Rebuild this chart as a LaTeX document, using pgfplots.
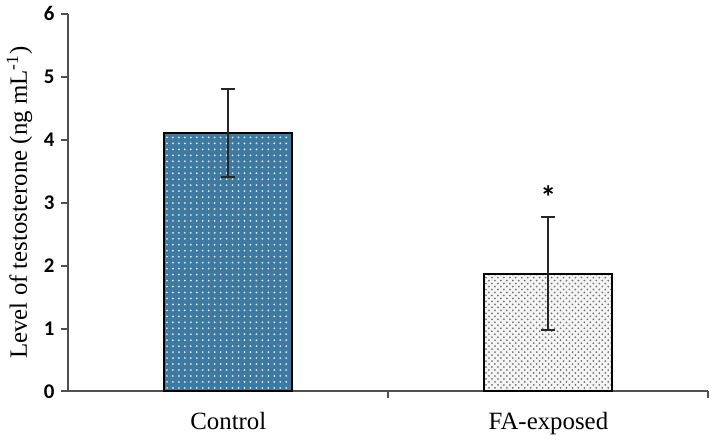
\documentclass[border=0pt]{standalone}
\usepackage{pgfplots}
\pgfplotsset{compat=1.18}
\usetikzlibrary{patterns}
\usepackage{fontspec}
\setmainfont{Liberation Serif}
\newfontfamily\carlito{Carlito}
\definecolor{ctrlblue}{RGB}{62,122,160}
\definecolor{axisgray}{RGB}{80,80,80}
\begin{document}
\begin{tikzpicture}
  \begin{axis}[
      width=322pt, height=190pt,
      scale only axis,
      axis x line*=bottom,
      axis y line*=left,
      axis line style={axisgray, line width=1pt},
      xmin=-0.5, xmax=1.5,
      ymin=0, ymax=6,
      xtick={0.5,1.5},
      xticklabels={},
      extra x ticks={0,1},
      extra x tick labels={Control, FA-exposed},
      extra x tick style={major tick length=0pt,
        tick label style={font=\fontsize{12.5}{14}\selectfont, yshift=-7pt}},
      ytick={0,1,2,3,4,5,6},
      yticklabels={0,1,2,3,4,5,6},
      y tick label style={font=\carlito\bfseries\fontsize{10.5}{12}\selectfont},
      tick align=outside,
      major tick length=3.5pt,
      tick style={axisgray, line width=1pt},
      ylabel={Level of testosterone (ng mL\textsuperscript{-1})},
      ylabel style={font=\fontsize{12.5}{14}\selectfont, yshift=-1pt},
      ybar,
      bar width=0.4,
      bar shift=0pt,
      clip=false,
    ]
    \addplot[draw=black, line width=1pt, fill=ctrlblue,
      postaction={pattern=dots, pattern color=white!85!ctrlblue},
      error bars/.cd, y dir=both, y explicit,
      error bar style={black!85, line width=1pt},
      error mark options={black!85, line width=1pt, mark size=3.5pt, rotate=90}]
      coordinates {(0,4.10) +- (0,0.70)};
    \addplot[draw=black, line width=1pt, fill=gray!8,
      postaction={pattern=crosshatch dots, pattern color=black!55},
      error bars/.cd, y dir=both, y explicit,
      error bar style={black!85, line width=1pt},
      error mark options={black!85, line width=1pt, mark size=3.5pt, rotate=90}]
      coordinates {(1,1.87) +- (0,0.90)};
    \node[font=\carlito\bfseries\fontsize{16}{16}\selectfont] at (axis cs:1,3.08) {*};
  \end{axis}
\end{tikzpicture}
\end{document}
